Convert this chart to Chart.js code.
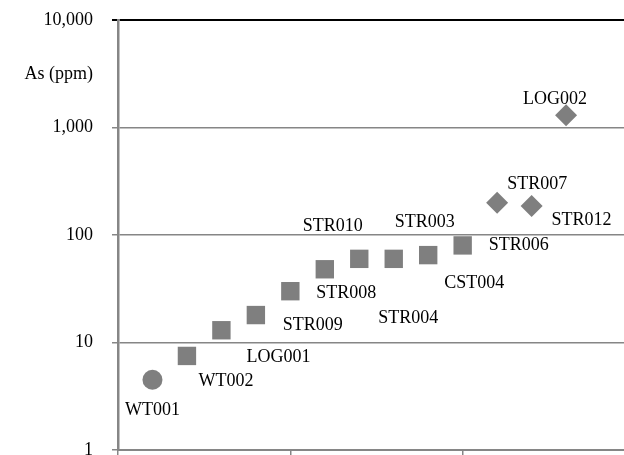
<!DOCTYPE html>
<html>
<head>
<meta charset="utf-8">
<script src="https://cdn.jsdelivr.net/npm/chart.js@4"></script>
<style>
    html, body { margin: 0; padding: 0; background: #fff; overflow: hidden; }
    .chart-box { width: 648px; height: 500px; position: relative; }
</style>
</head>
<body>
<div class="chart-box"><canvas id="asChart"></canvas></div>
<script>
const sampleIds = ['WT001', 'WT002', 'LOG001', 'STR009', 'STR008', 'STR010', 'STR004', 'STR003', 'CST004', 'STR006', 'STR007', 'STR012', 'LOG002']
const sampleRank = [1, 2, 3, 4, 5, 6, 7, 8, 9, 10, 11, 12, 13]
const asPpm = [4.5, 7.5, 13, 18, 30, 48, 60, 60, 65, 80, 200, 186, 1300]
const sampleGroup = [0, 1, 1, 1, 1, 1, 1, 1, 1, 1, 2, 2, 2]
const yTickValues = [1, 10, 100, 1000, 10000]

const serif = "'Liberation Serif', 'Times New Roman', serif"
const gray = '#868686'
const markerColor = '#7f7f7f'

// label offsets from the point, in px (hand placed in the original)
const labelShift = {
    WT001: [0, 30], WT002: [39, 25], LOG001: [57, 27], STR009: [57, 10],
    STR008: [56, 2], STR010: [8, -43], STR004: [49, 59], STR003: [31, -37],
    CST004: [46, 28], STR006: [56, 0], STR007: [40, -18], STR012: [50, 14],
    LOG002: [-11, -16]
}

const groupStyle = [
    { pointStyle: 'circle', pointRadius: 10 },
    { pointStyle: 'rect', pointRadius: 13 },
    { pointStyle: 'rectRot', pointRadius: 11 }
]

const datasets = groupStyle.map((style, g) => {
    const points = []
    sampleIds.forEach((id, i) => {
        if (sampleGroup[i] == g) points.push({ x: sampleRank[i], y: asPpm[i], id: id })
    })
    return {
        data: points,
        pointStyle: style.pointStyle,
        pointRadius: style.pointRadius,
        backgroundColor: markerColor,
        borderColor: markerColor,
        borderWidth: 0
    }
})

const pointLabels = {
    id: 'pointLabels',
    afterDatasetsDraw(chart) {
        const ctx = chart.ctx
        ctx.save()
        ctx.font = '18px ' + serif
        ctx.fillStyle = '#000'
        ctx.textAlign = 'center'
        ctx.textBaseline = 'middle'
        chart.data.datasets.forEach((ds, d) => {
            chart.getDatasetMeta(d).data.forEach((el, i) => {
                const id = ds.data[i].id
                const s = labelShift[id]
                ctx.fillText(id, el.x + s[0], el.y + s[1])
            })
        })
        ctx.textAlign = 'right'
        ctx.fillText('As (ppm)', chart.chartArea.left - 25, chart.chartArea.top + 54)
        ctx.restore()
    }
}

new Chart(document.getElementById('asChart'), {
    type: 'scatter',
    data: { datasets: datasets },
    plugins: [pointLabels],
    options: {
        responsive: true,
        maintainAspectRatio: false,
        animation: false,
        layout: { padding: { top: 20, right: 6, left: 0, bottom: 0 } },
        plugins: { legend: { display: false }, tooltip: { enabled: false } },
        scales: {
            x: {
                type: 'linear',
                min: 0,
                max: 15,
                ticks: { display: false, stepSize: 5 },
                grid: { drawOnChartArea: false, color: gray, lineWidth: 1.5, tickLength: 6 },
                border: { color: gray, width: 2 },
                afterFit: scale => { scale.height = 50 }
            },
            y: {
                type: 'logarithmic',
                min: 1,
                max: 10000,
                afterBuildTicks: scale => { scale.ticks = yTickValues.map(v => ({ value: v })) },
                ticks: {
                    padding: 19,
                    color: '#000',
                    font: { family: serif, size: 18 },
                    callback: v => v.toLocaleString('en-US')
                },
                grid: {
                    color: c => c.tick && c.tick.value == 10000 ? '#000' : gray,
                    lineWidth: c => c.tick && c.tick.value == 10000 ? 2 : 1.5,
                    tickLength: 6
                },
                border: { color: gray, width: 2.5 },
                afterFit: scale => {
                    scale.width = 118
                    scale.paddingTop = 0
                    scale.paddingBottom = 0
                }
            }
        }
    }
})
</script>
</body>
</html>
